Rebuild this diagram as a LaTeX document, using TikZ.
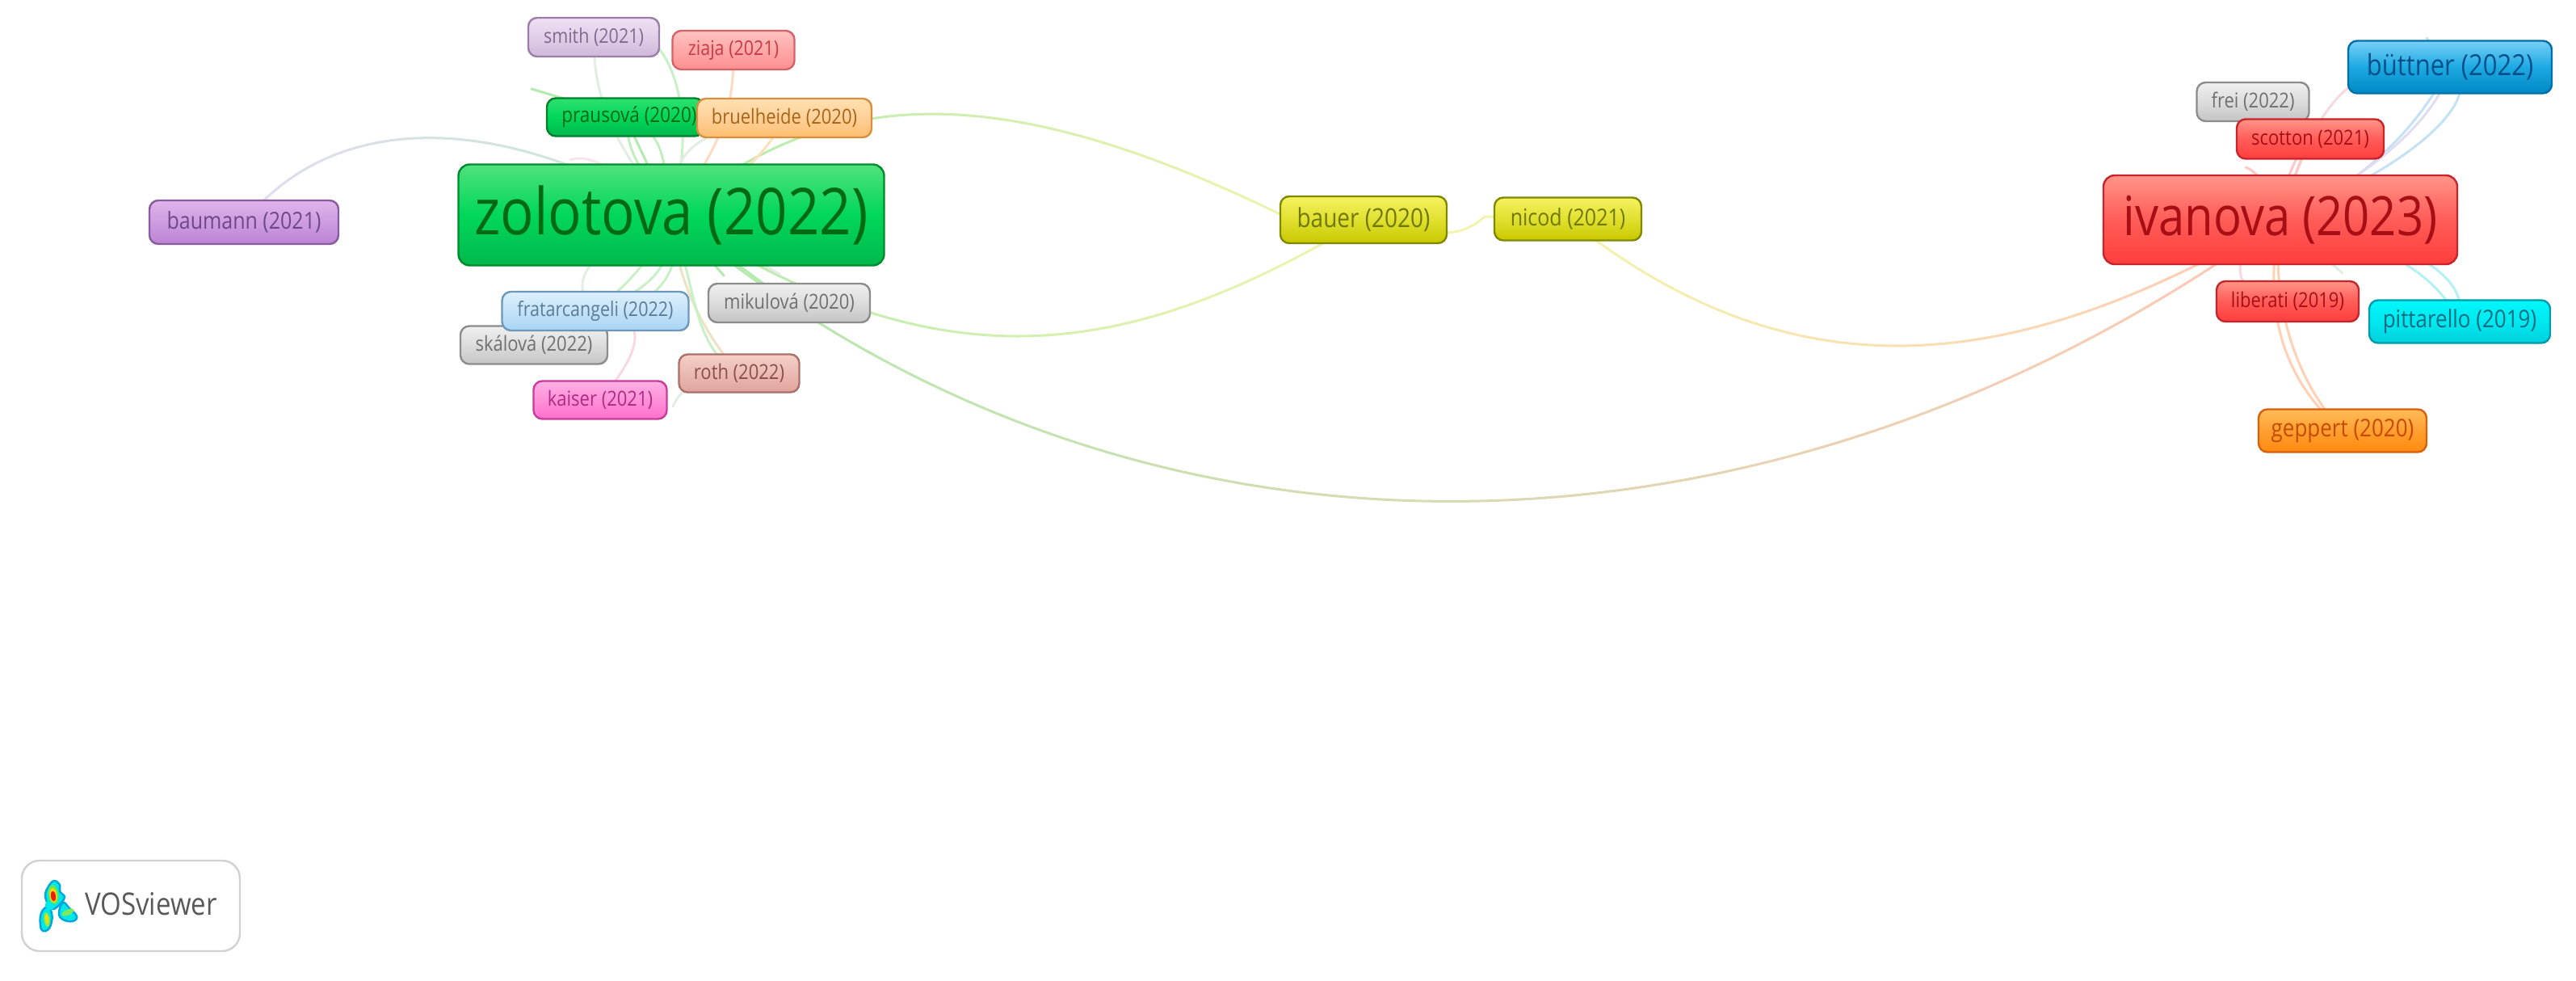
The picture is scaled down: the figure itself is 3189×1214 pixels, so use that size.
\documentclass[tikz,border=0pt]{standalone}
\usepackage{fontspec}
\setmainfont{Open Sans}
\usetikzlibrary{backgrounds}
\tikzset{
  lab/.style={rectangle,rounded corners=11pt,line width=2.4pt,inner sep=0pt,align=center},
  big/.style={lab,rounded corners=14pt},
  zgreen/.style={top color=4FE27C,bottom color=00B84C,middle color=00D75A,draw=008A2E,text=006A12},
  pgreen/.style={top color=2FE070,bottom color=00B84C,middle color=00D75A,draw=00802C,text=006A12},
  redn/.style={top color=FF9488,bottom color=FF3E3E,middle color=FF5C58,draw=C8242A,text=A80F14},
  bluen/.style={top color=78D0F6,bottom color=0088C4,middle color=1CA9E2,draw=006FA6,text=00508C},
  cyann/.style={top color=00F8FA,bottom color=00D0DC,middle color=00E8F0,draw=009AA8,text=006E80},
  orangen/.style={top color=FFBC58,bottom color=FF8A10,middle color=FFA030,draw=D8600C,text=C84A00},
  yel/.style={top color=F6F260,bottom color=C8C800,middle color=E0E030,draw=808800,text=707800},
  grayn/.style={top color=F0F0F0,bottom color=C4C4C4,middle color=DCDCDC,draw=8C8C8C,text=707070},
  lilac/.style={top color=EFE0F4,bottom color=D0B8DC,middle color=E0CEE8,draw=9A7FA8,text=806A90},
  pinkred/.style={top color=FFC4C0,bottom color=FF9090,middle color=FFA8A8,draw=D86068,text=C83A46},
  peach/.style={top color=FFE0B0,bottom color=FFBE70,middle color=FFD098,draw=D89040,text=A86418},
  sky/.style={top color=DDF0FC,bottom color=A8D4F4,middle color=C4E2F8,draw=6C98BC,text=5A7C98},
  magentan/.style={top color=FFB0E4,bottom color=FF70CC,middle color=FF90D8,draw=C83C9C,text=B02A84},
  rosy/.style={top color=F4D0C8,bottom color=E0A49C,middle color=EABAB2,draw=A87068,text=885048},
  purp/.style={top color=E0B4EC,bottom color=BC84D4,middle color=CC9CE0,draw=8A5AA0,text=704888},
  edgeline/.style={line width=3pt,line cap=round},
}
\definecolor{4FE27C}{HTML}{4FE27C}\definecolor{00B84C}{HTML}{00B84C}\definecolor{00D75A}{HTML}{00D75A}\definecolor{008A2E}{HTML}{008A2E}\definecolor{006A12}{HTML}{006A12}
\definecolor{2FE070}{HTML}{2FE070}\definecolor{00802C}{HTML}{00802C}
\definecolor{FF9488}{HTML}{FF9488}\definecolor{FF3E3E}{HTML}{FF3E3E}\definecolor{FF5C58}{HTML}{FF5C58}\definecolor{C8242A}{HTML}{C8242A}\definecolor{A80F14}{HTML}{A80F14}
\definecolor{78D0F6}{HTML}{78D0F6}\definecolor{0088C4}{HTML}{0088C4}\definecolor{1CA9E2}{HTML}{1CA9E2}\definecolor{006FA6}{HTML}{006FA6}\definecolor{00508C}{HTML}{00508C}
\definecolor{00F8FA}{HTML}{00F8FA}\definecolor{00D0DC}{HTML}{00D0DC}\definecolor{00E8F0}{HTML}{00E8F0}\definecolor{009AA8}{HTML}{009AA8}\definecolor{006E80}{HTML}{006E80}
\definecolor{FFBC58}{HTML}{FFBC58}\definecolor{FF8A10}{HTML}{FF8A10}\definecolor{FFA030}{HTML}{FFA030}\definecolor{D8600C}{HTML}{D8600C}\definecolor{C84A00}{HTML}{C84A00}
\definecolor{F6F260}{HTML}{F6F260}\definecolor{C8C800}{HTML}{C8C800}\definecolor{E0E030}{HTML}{E0E030}\definecolor{808800}{HTML}{808800}\definecolor{707800}{HTML}{707800}
\definecolor{F0F0F0}{HTML}{F0F0F0}\definecolor{C4C4C4}{HTML}{C4C4C4}\definecolor{DCDCDC}{HTML}{DCDCDC}\definecolor{8C8C8C}{HTML}{8C8C8C}\definecolor{707070}{HTML}{707070}
\definecolor{EFE0F4}{HTML}{EFE0F4}\definecolor{D0B8DC}{HTML}{D0B8DC}\definecolor{E0CEE8}{HTML}{E0CEE8}\definecolor{9A7FA8}{HTML}{9A7FA8}\definecolor{806A90}{HTML}{806A90}
\definecolor{FFC4C0}{HTML}{FFC4C0}\definecolor{FF9090}{HTML}{FF9090}\definecolor{FFA8A8}{HTML}{FFA8A8}\definecolor{D86068}{HTML}{D86068}\definecolor{C83A46}{HTML}{C83A46}
\definecolor{FFE0B0}{HTML}{FFE0B0}\definecolor{FFBE70}{HTML}{FFBE70}\definecolor{FFD098}{HTML}{FFD098}\definecolor{D89040}{HTML}{D89040}\definecolor{A86418}{HTML}{A86418}
\definecolor{DDF0FC}{HTML}{DDF0FC}\definecolor{A8D4F4}{HTML}{A8D4F4}\definecolor{C4E2F8}{HTML}{C4E2F8}\definecolor{6C98BC}{HTML}{6C98BC}\definecolor{5A7C98}{HTML}{5A7C98}
\definecolor{FFB0E4}{HTML}{FFB0E4}\definecolor{FF70CC}{HTML}{FF70CC}\definecolor{FF90D8}{HTML}{FF90D8}\definecolor{C83C9C}{HTML}{C83C9C}\definecolor{B02A84}{HTML}{B02A84}
\definecolor{F4D0C8}{HTML}{F4D0C8}\definecolor{E0A49C}{HTML}{E0A49C}\definecolor{EABAB2}{HTML}{EABAB2}\definecolor{A87068}{HTML}{A87068}\definecolor{885048}{HTML}{885048}
\definecolor{E0B4EC}{HTML}{E0B4EC}\definecolor{BC84D4}{HTML}{BC84D4}\definecolor{CC9CE0}{HTML}{CC9CE0}\definecolor{8A5AA0}{HTML}{8A5AA0}\definecolor{704888}{HTML}{704888}
\definecolor{eg}{HTML}{B4EAB0}\definecolor{ey}{HTML}{F2F4B0}\definecolor{eo}{HTML}{FFC8B6}\definecolor{ea}{HTML}{FFE0BC}
\definecolor{el}{HTML}{E2DCF0}\definecolor{eb}{HTML}{C4E2F6}\definecolor{ec}{HTML}{B4F0F4}\definecolor{ep}{HTML}{F8D8E2}\definecolor{et}{HTML}{EEE2C4}\definecolor{ef}{HTML}{E2EEE2}
\definecolor{er}{HTML}{FFC8C4}\definecolor{en}{HTML}{FFD0B4}\definecolor{egb}{HTML}{C8EAD0}
\definecolor{blueedge}{HTML}{00A8DC}\definecolor{cyanblob}{HTML}{00E8E8}
% label text, stretched upright as in the reference
\newcommand{\tl}[2]{\scalebox{1}[1.16]{\fontsize{#1}{#1}\selectfont #2}}
% node: name, cx, cy, w, h, font size, colour style, text
\newcommand{\nd}[8]{\node[lab,#7,minimum width=#4pt,minimum height=#5pt] (#1) at (#2,#3) {\tl{#6}{#8}};}
% graded connector: start, c1, c2, end, xmin, xmax, colA, colB
\newcommand{\gradedge}[8]{%
  \foreach \i in {0,...,23}{%
    \pgfmathsetmacro\xa{#5+(#6-#5)/24*\i}%
    \pgfmathsetmacro\xb{#5+(#6-#5)/24*(\i+1)+1}%
    \pgfmathsetmacro\pc{100-100*(\i+0.5)/24}%
    \begin{scope}
      \clip (\xa,-20) rectangle (\xb,1300);
      \draw[edgeline,color={#7!\pc!#8}] #1 .. controls #2 and #3 .. #4;
    \end{scope}}}
\begin{document}
\begin{tikzpicture}[x=1pt,y=-1pt]
\useasboundingbox (0,0) rectangle (3189,1214);
% nodes
\nd{baumann}{302}{275}{234}{54}{25}{purp}{baumann (2021)}
\nd{smith}{735}{46}{162}{48}{21.5}{lilac}{smith (2021)}
\nd{ziaja}{908}{62}{151}{48}{21.5}{pinkred}{ziaja (2021)}
\nd{prausova}{774}{145}{194}{47}{22.5}{pgreen}{\hspace*{10pt}prausová (2020)}
\nd{bruelheide}{971}{146}{216}{48}{22}{peach}{bruelheide (2020)}
\node[big,zgreen,minimum width=527pt,minimum height=125pt] (zolotova) at (831,266) {\tl{69}{zolotova (2022)}};
\nd{skalova}{661}{427}{182}{47}{22}{grayn}{skálová (2022)}
\nd{frat}{737}{385}{231}{48}{21.5}{sky}{fratarcangeli (2022)}
\nd{mikulova}{977}{375}{200}{48}{22}{grayn}{mikulová (2020)}
\nd{roth}{915}{462}{149}{47}{22}{rosy}{roth (2022)}
\nd{kaiser}{743}{495}{165}{47}{22}{magentan}{kaiser (2021)}
\nd{bauer}{1688}{272}{206}{58}{28}{yel}{bauer (2020)}
\nd{nicod}{1941}{271}{182}{53}{25}{yel}{nicod (2021)}
\nd{buttner}{3033}{83}{252}{65}{31}{bluen}{büttner (2022)}
\nd{frei}{2789}{126}{139}{48}{22}{grayn}{frei (2022)}
\nd{scotton}{2860}{172}{182}{49}{22}{redn}{scotton (2021)}
\node[big,redn,minimum width=438pt,minimum height=110pt] (ivanova) at (2823,272) {\tl{58}{ivanova (2023)}};
\nd{liberati}{2832}{373}{176}{50}{22}{redn}{liberati (2019)}
\nd{pittarello}{3045}{398}{224}{53}{26}{cyann}{pittarello (2019)}
\nd{geppert}{2900}{533}{208}{53}{26}{orangen}{geppert (2020)}
% logo
\node[draw=black!18,line width=2.4pt,rounded corners=22pt,minimum width=270pt,minimum height=112pt,inner sep=0pt] (logobox) at (162,1121) {};
\node[anchor=west,inner sep=0pt,text=black!65] (logotext) at (105,1119) {\tl{33}{VOSviewer}};
\foreach \pth in {
  {(67,1090) (74,1095) (74,1103) (80,1110) (75,1118) (66,1125) (60,1120) (56,1108) (60,1097)},
  {(59,1122) (64,1130) (64,1140) (60,1150) (53,1152) (50,1145) (51,1130)},
  {(78,1117) (86,1124) (95,1134) (90,1140) (78,1138) (73,1130)}}{
  \draw[blueedge,line width=2.5pt,fill=cyanblob] plot[smooth cycle,tension=.7] coordinates \pth;
}
\fill[cyanblob] (62,1120) circle (6);
\foreach \cx/\cy/\rx/\ry/\rot/\cc in {66/1107/6.5/12/8/60E860, 58/1138/3.5/9/8/A0E840, 84/1129/8/3.5/25/80E860, 66/1108/4.5/9/8/F8D800, 58/1137/2/5.5/8/F0E000, 66/1109/3/6.5/8/E82000}{
  \definecolor{blobc}{HTML}{\cc}
  \fill[blobc,rotate around={\rot:(\cx,\cy)}] (\cx,\cy) ellipse [x radius=\rx,y radius=\ry];
}
% free ends
\coordinate (s1) at (658,110);
\coordinate (s2) at (896,341);
\coordinate (s3) at (965,339);
\coordinate (s4) at (833,503);
\coordinate (k1) at (1838,268);
\coordinate (b1) at (1640,293);
\coordinate (s5) at (3004,47);
\coordinate (s6) at (2780,207);
\coordinate (s7) at (2900,338);
\coordinate (s8) at (706,198);
\begin{scope}[on background layer]
  \fill[white] (0,0) rectangle (3189,1214);
  % long connectors
  \gradedge{(zolotova.center)}{(1400,750)}{(2200,725)}{(ivanova.center)}{830}{2830}{eg}{eo}
  \gradedge{(zolotova.center)}{(1150,470)}{(1375,460)}{(bauer.center)}{830}{1690}{eg}{ey}
  \gradedge{(zolotova.center)}{(1020,110)}{(1230,80)}{(b1)}{830}{1640}{eg}{ey}
  \gradedge{(nicod.center)}{(2240,510)}{(2520,448)}{(ivanova.center)}{1940}{2825}{ey}{eo}
  \gradedge{(baumann.center)}{(410,140)}{(610,135)}{(zolotova.center)}{300}{830}{el}{egb}
  \draw[edgeline,ey] (bauer.center) .. controls (1790,300) and (1815,288) .. (k1) -- (nicod.center);
  % around zolotova
  \draw[edgeline,ef] (smith.center) .. controls (735,110) and (750,170) .. (zolotova.center);
  \draw[edgeline,eg!70!white] (smith.center) .. controls (825,0) and (870,130) .. (zolotova.center);
  \draw[edgeline,en!80!white] (ziaja.center) .. controls (908,130) and (900,170) .. (zolotova.center);
  \draw[edgeline,eg] (s1) -- (prausova.center);
  \draw[edgeline,eg] (prausova.center) -- (zolotova.center);
  \draw[edgeline,eg!80!white] (prausova.center) .. controls (780,190) .. (zolotova.center);
  \draw[edgeline,eg!80!white] (prausova.center) .. controls (830,165) and (820,210) .. (zolotova.center);
  \draw[edgeline,ea] (bruelheide.center) .. controls (950,190) and (900,240) .. (zolotova.center);
  \draw[edgeline,ef] (bruelheide.center) .. controls (835,160) and (830,210) .. (zolotova.center);
  \draw[edgeline,ef] (frat.center) .. controls (700,350) and (725,310) .. (zolotova.center);
  \draw[edgeline,eg!70!white] (frat.center) .. controls (790,340) and (805,320) .. (zolotova.center);
  \draw[edgeline,eg!70!white] (frat.center) .. controls (825,350) and (830,320) .. (zolotova.center);
  \draw[edgeline,eg!70!white] (skalova.center) .. controls (840,380) and (845,330) .. (zolotova.center);
  \draw[edgeline,et] (roth.center) .. controls (860,400) and (835,330) .. (zolotova.center);
  \draw[edgeline,eg!70!white] (roth.center) .. controls (858,430) and (862,360) .. (zolotova.center);
  \draw[edgeline,ep] (kaiser.center) .. controls (790,440) and (812,390) .. (frat.center);
  \draw[edgeline,ef] (s4) .. controls (845,480) .. (roth.center);
  \draw[edgeline,eg] (zolotova.center) -- (s2);
  \draw[edgeline,eg] (zolotova.center) -- (mikulova.center);
  \draw[edgeline,ef] (zolotova.center) -- (s3);
  \draw[edgeline,ep!70!white] (s8) .. controls (725,192) and (745,195) .. (zolotova.center);
  % around ivanova
  \draw[edgeline,eb] (buttner.center) .. controls (3000,140) and (2950,215) .. (ivanova.center);
  \draw[edgeline,el] (buttner.center) .. controls (3025,125) and (2970,200) .. (ivanova.center);
  \draw[edgeline,eb] (buttner.center) .. controls (3075,110) and (3020,190) .. (ivanova.center);
  \draw[edgeline,eb] (s5) -- (buttner.center);
  \draw[edgeline,ep] (buttner.center) .. controls (2900,60) and (2860,150) .. (ivanova.center);
  \draw[edgeline,er] (scotton.center) .. controls (2842,190) and (2825,230) .. (ivanova.center);
  \draw[edgeline,er] (scotton.center) .. controls (2852,190) and (2835,230) .. (ivanova.center);
  \draw[edgeline,er] (s6) .. controls (2795,212) and (2810,235) .. (ivanova.center);
  \draw[edgeline,ep] (liberati.center) .. controls (2745,360) and (2765,310) .. (ivanova.center);
  \draw[edgeline,en] (ivanova.center) .. controls (2800,380) and (2825,470) .. (geppert.center);
  \draw[edgeline,en] (ivanova.center) .. controls (2810,370) and (2840,470) .. (geppert.center);
  \draw[edgeline,ef] (s7) -- (ivanova.center);
  \draw[edgeline,ec] (pittarello.center) .. controls (3025,360) and (2985,305) .. (ivanova.center);
  \draw[edgeline,ec] (pittarello.center) .. controls (3055,350) and (3010,300) .. (ivanova.center);
\end{scope}
\end{tikzpicture}
\end{document}
